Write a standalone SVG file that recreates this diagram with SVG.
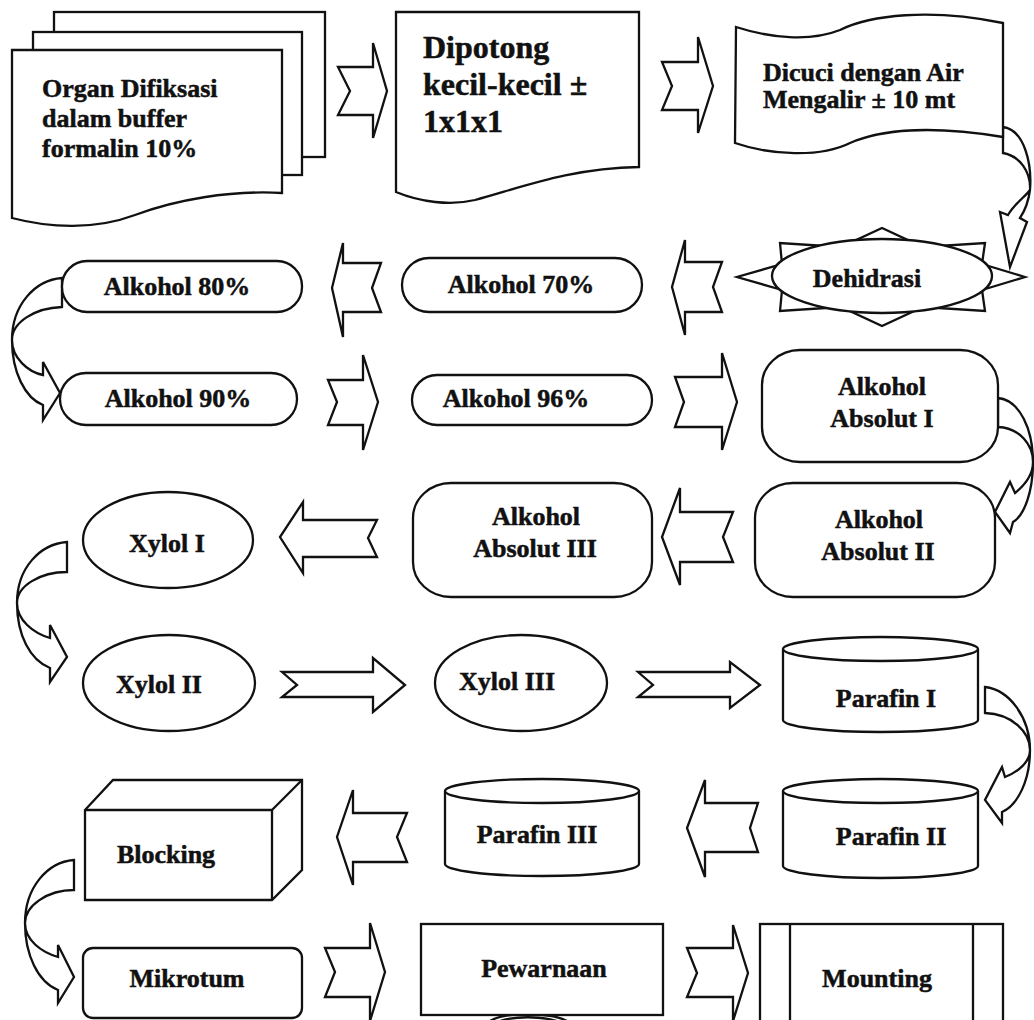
<svg xmlns="http://www.w3.org/2000/svg" width="1034" height="1020" viewBox="0 0 1034 1020">
<style>
.s{fill:#fff;stroke:#111;stroke-width:2.3;stroke-linejoin:miter}
.n{fill:none;stroke:#111;stroke-width:2.3}
text{font-family:"Liberation Serif","Times New Roman",serif;font-weight:bold;font-size:26px;fill:#111;stroke:#111;stroke-width:0.5}
.c{text-anchor:middle}
.big{font-size:32px}
</style>
<rect width="1034" height="1020" fill="#fff"/>
<g id="connectors">
<path class="s" d="M338,67 L373,67 L373,43 L387,91 L373,138 L373,115 L338,115 L350,91 Z"/>
<path class="s" d="M662,62 L698,62 L698,37 L713,86 L698,133 L698,110 L662,110 L672,86 Z"/>
<path class="s" d="M722,262 L685,262 L685,240 L672,287 L685,335 L685,312 L722,312 L713,287 Z"/>
<path class="s" d="M381,263 L343,263 L343,243 L332,288 L343,337 L343,312 L381,312 L372,288 Z"/>
<path class="s" d="M328,380 L363,380 L363,355 L378,402 L363,450 L363,425 L328,425 L337,402 Z"/>
<path class="s" d="M675,377 L722,377 L722,353 L737,402 L722,450 L722,427 L675,427 L684,402 Z"/>
<path class="s" d="M733,512 L680,512 L680,488 L662,537 L680,585 L680,562 L733,562 L723,537 Z"/>
<path class="s" d="M377,520 L303,520 L303,502 L280,537 L303,573 L303,557 L377,557 L368,538 Z"/>
<path class="s" d="M282,672 L373,672 L373,658 L405,685 L373,712 L373,697 L282,697 L297,685 Z"/>
<path class="s" d="M638,672 L730,672 L730,662 L760,685 L730,708 L730,697 L638,697 L653,685 Z"/>
<path class="s" d="M758,803 L705,803 L705,780 L687,828 L705,877 L705,852 L758,852 L750,828 Z"/>
<path class="s" d="M407,813 L353,813 L353,790 L337,837 L353,885 L353,862 L407,862 L397,837 Z"/>
<path class="s" d="M325,948 L370,948 L370,923 L385,972 L370,1021 L370,997 L325,997 L335,972 Z"/>
<path class="s" d="M687,948 L733,948 L733,925 L748,973 L733,1021 L733,997 L687,997 L697,973 Z"/>
<path class="s" d="M1003,127 C1025,130 1032,165 1030,190 C1028,205 1024,212 1020,218 L1027,222 L1010,267 L1000,212 L1008,215 C1015,203 1026,196 1030,190 C1031,172 1020,156 1003,153 Z"/>
<path class="s" d="M998,398 C1020,400 1033,430 1033,462 C1033,490 1025,515 1013,522 L1010,533 L995,512 L1010,482 L1015,493 C1025,485 1033,475 1033,462 C1033,445 1020,428 998,427 Z"/>
<path class="s" d="M985,687 C1010,690 1030,718 1030,750 C1030,780 1018,805 1002,812 L1002,823 L985,800 L1002,767 L1005,777 C1018,772 1030,762 1030,750 C1030,732 1012,714 985,713 Z"/>
<path class="s" d="M62,278 C35,280 12,305 12,340 C12,372 25,398 43,405 L43,420 L60,393 L43,362 L43,375 C28,372 12,358 12,340 C12,322 35,308 62,307 Z"/>
<path class="s" d="M67,542 C40,544 17,568 17,603 C17,635 30,660 50,668 L50,682 L67,657 L50,625 L50,638 C33,633 17,620 17,603 C17,586 40,572 67,572 Z"/>
<path class="s" d="M74,860 C47,862 25,888 25,923 C25,955 38,982 58,990 L58,1003 L74,977 L58,945 L58,957 C41,952 25,940 25,923 C25,906 47,890 74,890 Z"/>
<path class="n" stroke-width="3" d="M490,1021 C505,1012 550,1012 567,1021 M500,1021 C515,1016 540,1016 557,1021"/>
</g>
<g id="n1">
<rect class="s" x="54" y="12" width="271" height="145"/>
<rect class="s" x="33" y="32" width="269" height="143"/>
<path class="s" d="M12,50 H282 V193 C230,190 175,200 135,215 C95,230 50,228 12,218 Z"/>
<text x="42" y="97">Organ Difiksasi</text>
<text x="42" y="127">dalam buffer</text>
<text x="42" y="157">formalin 10%</text>
</g>
<g id="n2">
<path class="s" d="M396,12 H639 V167 C570,168 520,188 475,200 C450,206 420,202 396,192 Z"/>
<text class="big" x="423" y="58">Dipotong</text>
<text class="big" x="423" y="95">kecil-kecil ±</text>
<text class="big" x="423" y="132">1x1x1</text>
</g>
<g id="n3">
<path class="s" d="M736,27 C770,38 810,42 840,30 C870,15 930,8 1003,23 V137 C930,125 880,130 850,143 C820,158 770,155 735,143 Z"/>
<text x="763" y="81" font-size="27">Dicuci dengan Air</text>
<text x="763" y="108" font-size="27">Mengalir ± 10 mt</text>
</g>
<g id="n4">
<polygon class="s" points="1025,277 982,264 985,243 923,247 882,228 841,247 780,243 782,264 737,277 782,290 780,311 841,307 882,326 923,307 985,311 982,290"/>
<ellipse class="s" cx="882" cy="276" rx="110" ry="37"/>
<text class="c" x="867" y="287">Dehidrasi</text>
</g>
<g id="n5">
<rect class="s" x="402" y="258" width="240" height="54" rx="27"/>
<text class="c" x="521" y="293">Alkohol 70%</text>
</g>
<g id="n6">
<rect class="s" x="62" y="261" width="240" height="51" rx="25"/>
<text class="c" x="177" y="295">Alkohol 80%</text>
</g>
<g id="n7">
<rect class="s" x="60" y="373" width="237" height="52" rx="26"/>
<text class="c" x="178" y="407">Alkohol 90%</text>
</g>
<g id="n8">
<rect class="s" x="412" y="375" width="240" height="50" rx="25"/>
<text class="c" x="516" y="407">Alkohol 96%</text>
</g>
<g id="n9">
<rect class="s" x="762" y="350" width="236" height="112" rx="38" ry="35"/>
<text class="c" x="882" y="395">Alkohol</text>
<text class="c" x="882" y="427">Absolut I</text>
</g>
<g id="n10">
<rect class="s" x="755" y="483" width="240" height="114" rx="38" ry="35"/>
<text class="c" x="879" y="528">Alkohol</text>
<text class="c" x="878" y="560">Absolut II</text>
</g>
<g id="n11">
<rect class="s" x="413" y="483" width="239" height="114" rx="38" ry="35"/>
<text class="c" x="536" y="525">Alkohol</text>
<text class="c" x="535" y="557">Absolut III</text>
</g>
<g id="n12">
<ellipse class="s" cx="168" cy="540" rx="85" ry="48"/>
<text class="c" x="167" y="552">Xylol I</text>
</g>
<g id="n13">
<ellipse class="s" cx="169" cy="683" rx="86" ry="48"/>
<text class="c" x="159" y="693">Xylol II</text>
</g>
<g id="n14">
<ellipse class="s" cx="521" cy="683" rx="86" ry="48"/>
<text class="c" x="507" y="690">Xylol III</text>
</g>
<g id="n15">
<path class="s" d="M783,649 A97.5,12 0 0 1 978,649 V720 A97.5,12 0 0 1 783,720 Z"/>
<path class="n" d="M783,649 A97.5,12 0 0 0 978,649"/>
<text class="c" x="886" y="707">Parafin I</text>
</g>
<g id="n16">
<path class="s" d="M783,791 A97.5,12 0 0 1 978,791 V866 A97.5,12 0 0 1 783,866 Z"/>
<path class="n" d="M783,791 A97.5,12 0 0 0 978,791"/>
<text class="c" x="891" y="845">Parafin II</text>
</g>
<g id="n17">
<path class="s" d="M445,791 A97,12 0 0 1 639,791 V864 A97,12 0 0 1 445,864 Z"/>
<path class="n" d="M445,791 A97,12 0 0 0 639,791"/>
<text class="c" x="537" y="843">Parafin III</text>
</g>
<g id="n18">
<polygon class="s" points="85,810 113,780 302,780 302,870 272,900 85,900"/>
<path class="n" d="M85,810 H272 V900 M272,810 L302,780"/>
<text class="c" x="166" y="863">Blocking</text>
</g>
<g id="n19">
<rect class="s" x="83" y="948" width="219" height="70" rx="10"/>
<text class="c" x="187" y="987">Mikrotum</text>
</g>
<g id="n20">
<rect class="s" x="421" y="924" width="242" height="91"/>
<text class="c" x="544" y="977">Pewarnaan</text>
</g>
<g id="n21">
<rect class="s" x="760" y="924" width="243" height="110"/>
<path class="n" d="M790,924 V1034 M973,924 V1034"/>
<text class="c" x="877" y="987">Mounting</text>
</g>
</svg>
